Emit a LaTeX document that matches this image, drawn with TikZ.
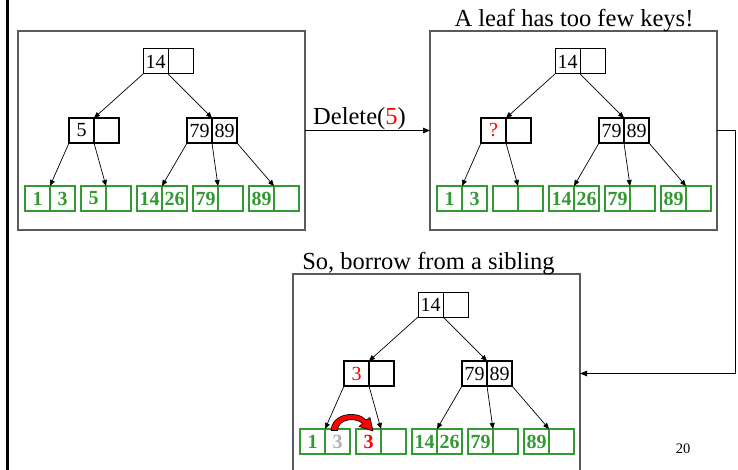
\documentclass[tikz,border=0pt]{standalone}
\usepackage{fontspec}
\setmainfont{Liberation Serif}
\usetikzlibrary{arrows.meta,calc}

\definecolor{leafgreen}{RGB}{51,153,51}
\definecolor{panelgray}{RGB}{90,90,90}
\definecolor{oldkey}{RGB}{175,175,175}

\tikzset{
  cellbase/.style={rectangle, inner sep=0pt, outer sep=0pt,
    minimum width=25pt, minimum height=25pt,
    font=\fontsize{20}{20}\selectfont},
  rootcell/.style={cellbase, draw=black, line width=1pt},
  innercell/.style={cellbase, draw=black, line width=1.6pt},
  leafcell/.style={cellbase, draw=leafgreen, line width=1.5pt,
    text=leafgreen, font=\fontsize{20}{20}\selectfont\bfseries},
  panelbox/.style={rectangle, draw=panelgray, line width=1.5pt,
    inner sep=0pt, outer sep=0pt, anchor=north west,
    minimum width=287pt, minimum height=199pt},
  treearrow/.style={draw=black, line width=0.7pt,
    -{Triangle[length=6pt,width=5pt]}},
  flowarrow/.style={draw=black, line width=0.9pt,
    -{Triangle[length=7pt,width=5.5pt]}},
  caption/.style={font=\fontsize{24.5}{24.5}\selectfont, inner sep=0pt},
}

% two-key node: #1 name, (#2,#3) top-left corner, #4 cell style,
% #5 and #6 the two key slots
\newcommand\keypair[6]{%
  \node[#4, anchor=north west] (#1-a) at (#2,#3) {#5};
  \node[#4, anchor=north west] (#1-b) at (#1-a.north east) {#6};
}

% the edges of one tree, prefix #1
\newcommand\treeedges[1]{%
  \draw[treearrow] (#1-root-a.south west) -- (#1-lft-a.north east);
  \draw[treearrow] (#1-root-a.south east) -- (#1-rgt-a.north east);
  \draw[treearrow] (#1-lft-a.south west) -- (#1-lf1-a.north east);
  \draw[treearrow] (#1-lft-a.south east) -- (#1-lf2-a.north east);
  \draw[treearrow] (#1-rgt-a.south west) -- (#1-lf3-a.north east);
  \draw[treearrow] (#1-rgt-a.south east) -- (#1-lf4-a.north east);
  \draw[treearrow] (#1-rgt-b.south east) -- (#1-lf5-a.north east);
}

\begin{document}
\begin{tikzpicture}[x=1pt, y=-1pt]
\useasboundingbox (0,0) rectangle (738,470);
\clip (0,0) rectangle (738,470);

% slide edge bar
\draw[line width=3pt] (7.5,0) -- (7.5,470);

% ---------- before the deletion ----------
\begin{scope}
  \node[panelbox] (p1-box) at (18,31) {};
  \keypair{p1-root}{143}{49}{rootcell}{14}{}
  \keypair{p1-lft}{69}{118}{innercell}{5}{}
  \keypair{p1-rgt}{187}{118}{innercell}{79}{89}
  \keypair{p1-lf1}{25}{186}{leafcell}{1}{3}
  \keypair{p1-lf2}{81}{186}{leafcell}{5}{}
  \keypair{p1-lf3}{137}{186}{leafcell}{14}{26}
  \keypair{p1-lf4}{193}{186}{leafcell}{79}{}
  \keypair{p1-lf5}{249}{186}{leafcell}{89}{}
  \treeedges{p1}
\end{scope}

% ---------- after removing 5 ----------
\begin{scope}[shift={(412,0)}]
  \node[panelbox] (p2-box) at (18,31) {};
  \keypair{p2-root}{143}{49}{rootcell}{14}{}
  \keypair{p2-lft}{69}{118}{innercell}{\textcolor{red}{?}}{}
  \keypair{p2-rgt}{187}{118}{innercell}{79}{89}
  \keypair{p2-lf1}{25}{186}{leafcell}{1}{3}
  \keypair{p2-lf2}{81}{186}{leafcell}{}{}
  \keypair{p2-lf3}{137}{186}{leafcell}{14}{26}
  \keypair{p2-lf4}{193}{186}{leafcell}{79}{}
  \keypair{p2-lf5}{249}{186}{leafcell}{89}{}
  \treeedges{p2}
\end{scope}
\node[caption, anchor=base] (title2) at (574,27) {A leaf has too few keys!};

% ---------- after borrowing ----------
\begin{scope}[shift={(275,243)}]
  \node[panelbox] (p3-box) at (18,31) {};
  \keypair{p3-root}{143}{49}{rootcell}{14}{}
  \keypair{p3-lft}{69}{118}{innercell}{\textcolor{red}{3}}{}
  \keypair{p3-rgt}{187}{118}{innercell}{79}{89}
  \keypair{p3-lf1}{25}{186}{leafcell}{1}{\textcolor{oldkey}{3}}
  \keypair{p3-lf2}{81}{186}{leafcell}{\textcolor{red}{3}}{}
  \keypair{p3-lf3}{137}{186}{leafcell}{14}{26}
  \keypair{p3-lf4}{193}{186}{leafcell}{79}{}
  \keypair{p3-lf5}{249}{186}{leafcell}{89}{}
  \treeedges{p3}
  % the key moving to its sibling
  \draw[fill=red, draw=black, line width=0.6pt, line join=round]
    (56,187.5) .. controls (57,169.5) and (83,167.5) .. (91,177)
    -- (95,174.5) -- (98,188) -- (84,183.5) -- (87.5,180.5)
    .. controls (81,174) and (63,175.5) .. (62.5,187.5) -- cycle;
\end{scope}
\node[caption, anchor=base] (title3) at (428.5,269) {So, borrow from a sibling};

% ---------- flow between the stages ----------
\draw[flowarrow] (p1-box.east) -- (p2-box.west);
\node[caption, anchor=base west] (dellabel) at (313,125)
  {Delete(\textcolor{red}{5})};
\coordinate (bend) at ($(p2-box.east)+(18,0)$);
\draw[flowarrow] (p2-box.east) -- (bend) |- (p3-box.east);

\node[font=\fontsize{14.5}{14.5}\selectfont, inner sep=0pt] (pagenum) at (683,449) {20};
\end{tikzpicture}
\end{document}
